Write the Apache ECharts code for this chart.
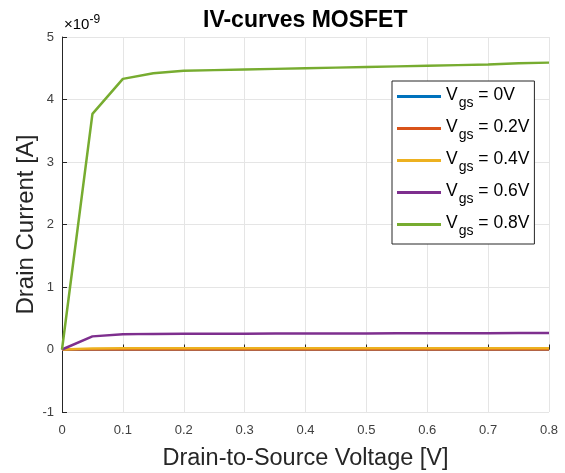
<!DOCTYPE html>
<html>
<head>
<meta charset="utf-8">
<script src="https://cdn.jsdelivr.net/npm/echarts@6/dist/echarts.min.js"></script>
<style>
  html, body { margin: 0; padding: 0; background: #fff; }
  #chart { width: 565px; height: 473px; }
</style>
</head>
<body>
<div id="chart"></div>
<script>
// drain-source voltage [V]
const vds = [0, 0.05, 0.1, 0.15, 0.2, 0.25, 0.3, 0.35, 0.4, 0.45, 0.5, 0.55, 0.6, 0.65, 0.7, 0.75, 0.8]
// drain current, in units of 1e-9 A
const id00 = [0, 0, 0, 0, 0, 0, 0, 0, 0, 0, 0, 0, 0, 0, 0, 0, 0]
const id02 = [0, 0.001, 0.001, 0.001, 0.001, 0.001, 0.001, 0.001, 0.001, 0.001, 0.001, 0.001, 0.001, 0.001, 0.001, 0.001, 0.001]
const id04 = [0, 0.018, 0.02, 0.02, 0.02, 0.02, 0.02, 0.02, 0.02, 0.02, 0.02, 0.02, 0.02, 0.02, 0.02, 0.021, 0.021]
const id06 = [0, 0.21, 0.245, 0.25, 0.252, 0.253, 0.254, 0.255, 0.256, 0.257, 0.258, 0.259, 0.26, 0.261, 0.262, 0.263, 0.264]
const id08 = [0, 3.77, 4.33, 4.42, 4.46, 4.47, 4.48, 4.49, 4.5, 4.51, 4.52, 4.53, 4.54, 4.55, 4.56, 4.58, 4.59]
const seriesNames = ['0V', '0.2V', '0.4V', '0.6V', '0.8V']
const seriesColors = ['#0072BD', '#D95319', '#EDB120', '#7E2F8E', '#77AC30']
const xTicks = ['0', '0.1', '0.2', '0.3', '0.4', '0.5', '0.6', '0.7', '0.8']

const chart = echarts.init(document.getElementById('chart'))
const font = "'Liberation Sans', Arial, Helvetica, sans-serif"

const allData = [id00, id02, id04, id06, id08]
const series = []
for (let i = 0; i < allData.length; i++) {
  series.push({
    name: seriesNames[i],
    type: 'line',
    symbol: 'none',
    color: seriesColors[i],
    lineStyle: { width: 2.5, color: seriesColors[i] },
    data: vds.map((v, k) => [v, allData[i][k]])
  })
}

chart.setOption({
  backgroundColor: '#fff',
  animation: false,
  title: {
    text: 'IV-curves MOSFET',
    left: 198,
    top: 4,
    textStyle: { fontFamily: font, fontWeight: 'bold', fontSize: 23, color: '#000' }
  },
  graphic: [{
    type: 'text',
    left: 64,
    top: 14,
    style: {
      text: '{a|×10}{b|-9}',
      rich: {
        a: { fontFamily: font, fontSize: 15, color: '#555' },
        b: { fontFamily: font, fontSize: 12, color: '#555', padding: [0, 0, 9, 0] }
      }
    }
  }],
  legend: {
    orient: 'vertical',
    left: 392,
    top: 81,
    padding: [5, 5, 6, 5],
    itemGap: 8,
    itemWidth: 44,
    itemHeight: 3,
    icon: 'rect',
    backgroundColor: '#fff',
    borderColor: '#262626',
    borderWidth: 1,
    data: seriesNames,
    formatter: name => '{v|V}{s|gs}{t| = ' + name + '}',
    textStyle: {
      rich: {
        v: { fontFamily: font, fontSize: 17.5, color: '#000', padding: [0, 0, 3, 0] },
        s: { fontFamily: font, fontSize: 14, color: '#000', padding: [13, 0, 0, 1] },
        t: { fontFamily: font, fontSize: 17.5, color: '#000', padding: [0, 0, 3, 0] }
      }
    }
  },
  grid: { left: 62, right: 16, top: 37, bottom: 61, outerBoundsMode: 'none' },
  xAxis: {
    type: 'value',
    min: 0,
    max: 0.8,
    interval: 0.1,
    name: 'Drain-to-Source Voltage [V]',
    nameLocation: 'middle',
    nameGap: 35,
    nameTextStyle: { fontFamily: font, fontSize: 23.5, color: '#262626' },
    axisLine: { show: true, lineStyle: { color: '#262626', width: 1 } },
    axisTick: { show: true, inside: true, length: 5, lineStyle: { color: '#262626' } },
    axisLabel: {
      fontFamily: font, fontSize: 13, color: '#404040', margin: 12,
      formatter: (v) => xTicks[Math.round(v * 10)]
    },
    splitLine: { show: true, lineStyle: { color: '#e5e5e5', width: 1 } }
  },
  yAxis: {
    type: 'value',
    min: -1,
    max: 5,
    interval: 1,
    name: 'Drain Current [A]',
    nameLocation: 'middle',
    nameGap: 24,
    nameMoveOverlap: false,
    nameTextStyle: { fontFamily: font, fontSize: 24, color: '#262626' },
    axisLine: { show: true, lineStyle: { color: '#262626', width: 1 } },
    axisTick: { show: true, inside: true, length: 5, lineStyle: { color: '#262626' } },
    axisLabel: { fontFamily: font, fontSize: 13, color: '#404040', margin: 8 },
    splitLine: { show: true, lineStyle: { color: '#e5e5e5', width: 1 } }
  },
  series: series
})
</script>
</body>
</html>
